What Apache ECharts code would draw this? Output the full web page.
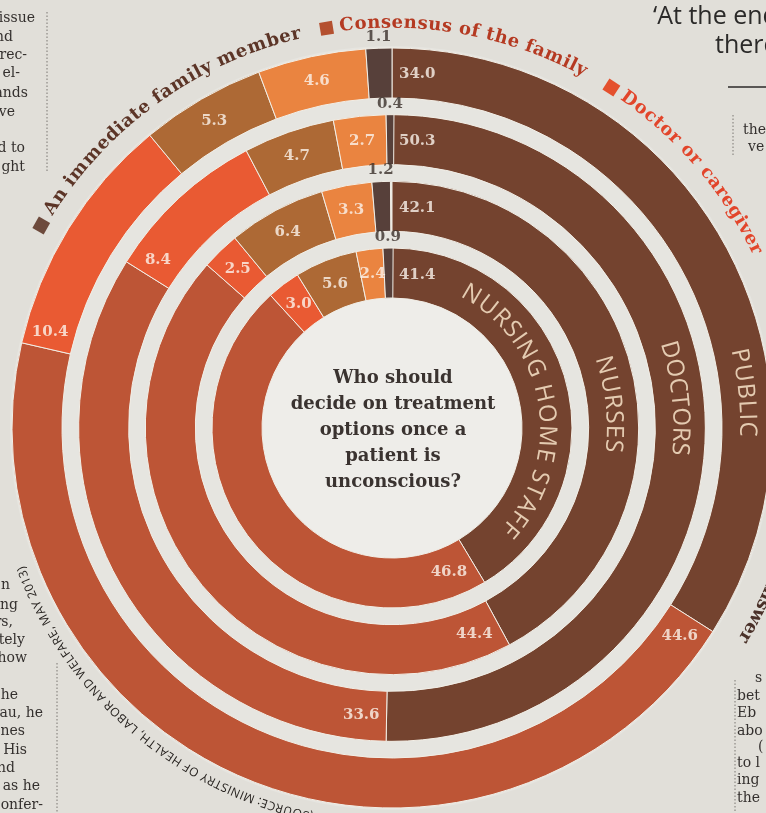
<!DOCTYPE html>
<html>
<head>
<meta charset="utf-8">
<script src="https://cdn.jsdelivr.net/npm/echarts@6/dist/echarts.min.js"></script>
<style>
html,body{margin:0;padding:0;background:#e1dfd9;}
#chart{width:766px;height:813px;}
</style>
</head>
<body>
<div id="chart"></div>
<script>
// ---------------- DATA ----------------
const rings = ['NURSING HOME STAFF', 'NURSES', 'DOCTORS', 'PUBLIC']; // inner -> outer
const immediateFamily   = [41.4, 42.1, 50.3, 34.0];
const familyConsensus   = [46.8, 44.4, 33.6, 44.6];
const doctorOrCaregiver = [3.0, 2.5, 8.4, 10.4];
const otherAnswer       = [5.6, 6.4, 4.7, 5.3];
const dontKnow          = [2.4, 3.3, 2.7, 4.6];
const noAnswer          = [0.9, 1.2, 0.4, 1.1];
const categoryNames = ['An immediate family member', 'Consensus of the family', 'Doctor or caregiver', 'Other', 'Don\u2019t know', 'No answer'];
const question = ['Who should', 'decide on treatment', 'options once a', 'patient is', 'unconscious?'];
const sourceNote = '(SOURCE: MINISTRY OF HEALTH, LABOR AND WELFARE, MAY 2013)';

// ---------------- LAYOUT / STYLE ----------------
const CX = 392, CY = 428;
const R_IN = 121.67, R_OUT = 388.33;
const BAND = (R_OUT - R_IN) / rings.length;
const BAR_W = 50;
const colors = ['#74432f', '#bd5536', '#e95a33', '#ad6935', '#ea8440', '#57403a'];
const LABEL_FONT = 'bold 15px "DejaVu Serif"';

const seriesVals = [immediateFamily, familyConsensus, doctorOrCaregiver, otherAnswer, dontKnow, noAnswer];

const mctx = document.createElement('canvas').getContext('2d');
function textW(s, font) { mctx.font = font; return mctx.measureText(s).width; }

// value labels (placed through the polar scales)
const labelPts = [];
rings.forEach((ring, i) => {
  let cum = 0;
  const rMid = R_IN + BAND * (i + 0.5);
  seriesVals.forEach((vals, j) => {
    const v = vals[i];
    const txt = v.toFixed(1);
    let ang, off = [0, 0], color = '#fbf4ec';
    if (v < 2) {
      ang = cum + v / 2;
      const th = ang / 100 * 2 * Math.PI;
      off = [Math.sin(th) * 36, -Math.cos(th) * 36];
      color = '#3a2f2b';
    } else if (v < 8) {
      ang = cum + v / 2;
    } else {
      const th = cum / 100 * 2 * Math.PI;
      const w = textW(txt, LABEL_FONT), h = 11;
      const d = w / 2 * Math.abs(Math.cos(th)) + h / 2 * Math.abs(Math.sin(th)) + 7;
      ang = cum + d / (2 * Math.PI * rMid) * 100;
    }
    labelPts.push({ value: [i, ang], label: { show: true, formatter: txt, offset: off, color: color } });
    cum += v;
  });
});

// curved text helper (clockwise, letter tops outward)
function arcText(str, r, startDeg, endDeg, font, fill, z) {
  const chars = Array.from(str);
  const ws = chars.map(c => textW(c, font));
  const total = ws.reduce((a, b) => a + b, 0);
  const k = endDeg != null ? ((endDeg - startDeg) * Math.PI / 180) / total : 1 / r;
  const els = [];
  let cum = 0;
  chars.forEach((c, idx) => {
    const th = startDeg * Math.PI / 180 + (cum + ws[idx] / 2) * k;
    cum += ws[idx];
    if (c === ' ') return;
    els.push({
      type: 'text', x: CX + r * Math.sin(th), y: CY - r * Math.cos(th), rotation: -th,
      z: z || 20, silent: true,
      style: { text: c, font: font, fill: fill, align: 'center', verticalAlign: 'middle', textAlign: 'center', textVerticalAlign: 'middle' }
    });
  });
  return els;
}
function arcSquare(r, deg, fill) {
  const th = deg * Math.PI / 180;
  return { type: 'rect', x: CX + r * Math.sin(th), y: CY - r * Math.cos(th), rotation: -th, z: 20, silent: true,
    shape: { x: -6.5, y: -6.5, width: 13, height: 13 }, style: { fill: fill } };
}

const graphics = [];
graphics.push({ type: 'circle', shape: { cx: CX, cy: CY, r: 382 }, style: { fill: '#e6e5e0' }, z: -5, silent: true });
graphics.push({ type: 'circle', shape: { cx: CX, cy: CY, r: 130 }, style: { fill: '#eeede9' }, z: -4, silent: true });

// legend along the outer arc
const LEG_FONT = 'bold 18px "DejaVu Serif"';
const legendArcs = [
  { cat: 0, r: 405, sq: 300.0, start: 301.9, end: 347.0, text: '#5c3527', sqc: '#6d4a3c' },
  { cat: 1, r: 405, sq: 350.7, start: 352.5, end: 388.6, text: '#b53a22', sqc: '#b4502f' },
  { cat: 2, r: 405, sq: 32.8,  start: 34.6,  end: 64.5,  text: '#e2452b', sqc: '#e4502d' },
  { cat: 5, r: 410, sq: 104.7, start: 106.5, end: null,  text: '#4a3129', sqc: '#4e372f' }
];
legendArcs.forEach(l => {
  graphics.push(arcSquare(l.r, l.sq, l.sqc));
  arcText(categoryNames[l.cat], l.r, l.start, l.end, LEG_FONT, l.text).forEach(e => graphics.push(e));
});

// ring names
const ringSpans = [[27, 133], [71, 96.5], [72.5, 95.5], [77, 91.5]];
rings.forEach((ring, i) => {
  const rMid = R_IN + BAND * (i + 0.5);
  arcText(ring, rMid, ringSpans[i][0], ringSpans[i][1], '24px "Open Sans"', '#e4cbb1').forEach(e => graphics.push(e));
});

// source
arcText(sourceNote, 396, 191.5, 249.5, '12px "Open Sans"', '#26221f').forEach(e => graphics.push(e));

// centre question
graphics.push({
  type: 'text', x: 393, y: 430, z: 20, silent: true,
  style: { text: question.join('\n'), font: 'bold 18px "DejaVu Serif"', lineHeight: 26, fill: '#3a3330',
    align: 'center', verticalAlign: 'middle', textAlign: 'center', textVerticalAlign: 'middle' }
});

// surrounding magazine page fragments
const pageText = [
  ['issue', 35, 18], ['nd', 13, 37], ['rec-', 27, 55], ['el-', 20, 73], ['ands', 28, 93], ['ve', 15, 112],
  ['d to', 25, 148], ['ght', 25, 167],
  ['n', 10, 585], ['ng', 18, 605], ['rs,', 13, 622], ['tely', 25, 640], ['how', 27, 658],
  ['he', 18, 695], ['au, he', 43, 713], ['nes', 25, 731], ['His', 27, 750], ['nd', 15, 768], ['as he', 40, 786], ['onfer-', 43, 805]
];
pageText.forEach(p => graphics.push({ type: 'text', x: p[1], y: p[2], z: 1, silent: true,
  style: { text: p[0], font: '14px "DejaVu Serif"', fill: '#34302e', align: 'right', verticalAlign: 'middle', textAlign: 'right', textVerticalAlign: 'middle' } }));
const pageTextR = [
  ['the', 743, 130], ['ve', 748, 147], ['s', 755, 678], ['bet', 737, 696], ['Eb', 737, 713], ['abo', 737, 731],
  ['(', 758, 747], ['to l', 737, 763], ['ing', 737, 780], ['the', 737, 798]
];
pageTextR.forEach(p => graphics.push({ type: 'text', x: p[1], y: p[2], z: 1, silent: true,
  style: { text: p[0], font: '14px "DejaVu Serif"', fill: '#34302e', align: 'left', verticalAlign: 'middle', textAlign: 'left', textVerticalAlign: 'middle' } }));
graphics.push({ type: 'text', x: 653, y: 17, z: 1, silent: true,
  style: { text: '\u2018At the end', font: '25px "Open Sans"', fill: '#2b2a29', align: 'left', verticalAlign: 'middle', textAlign: 'left', textVerticalAlign: 'middle' } });
graphics.push({ type: 'text', x: 715, y: 46, z: 1, silent: true,
  style: { text: 'there', font: '25px "Open Sans"', fill: '#2b2a29', align: 'left', verticalAlign: 'middle', textAlign: 'left', textVerticalAlign: 'middle' } });
graphics.push({ type: 'line', z: 1, silent: true, shape: { x1: 728, y1: 87, x2: 766, y2: 87 }, style: { stroke: '#2b2a29', lineWidth: 1.5 } });
[[47, 12, 172], [57, 663, 813], [733, 115, 155], [735, 680, 813]].forEach(d => graphics.push({
  type: 'line', z: 1, silent: true, shape: { x1: d[0], y1: d[1], x2: d[0], y2: d[2] },
  style: { stroke: '#7a7672', lineWidth: 1, lineDash: [1.5, 2] } }));

const chart = echarts.init(document.getElementById('chart'), null, { renderer: 'canvas' });
chart.setOption({
  animation: false,
  backgroundColor: '#e1dfd9',
  polar: { center: [CX, CY], radius: [R_IN, R_OUT] },
  angleAxis: { type: 'value', min: 0, max: 100, startAngle: 90, clockwise: true, show: false },
  radiusAxis: { type: 'category', data: rings, show: false },
  graphic: { elements: graphics },
  series: seriesVals.map((vals, j) => ({
    type: 'bar', name: categoryNames[j], coordinateSystem: 'polar', stack: 'all', data: vals,
    barWidth: BAR_W, silent: true, z: 2,
    itemStyle: { color: colors[j], borderColor: '#f2eee6', borderWidth: 1 }
  })).concat([{
    type: 'scatter', coordinateSystem: 'polar', data: labelPts, symbolSize: 1, silent: true, z: 10,
    itemStyle: { color: 'rgba(0,0,0,0)' },
    label: { show: true, position: 'inside', fontFamily: 'DejaVu Serif', fontWeight: 'bold', fontSize: 15 }
  }])
});
</script>
</body>
</html>
